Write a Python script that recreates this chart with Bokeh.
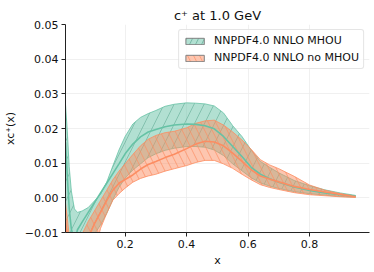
from bokeh.plotting import figure
from bokeh.models import ColumnDataSource, FixedTicker, Legend, LegendItem, Range1d
from bokeh.embed import file_html
from bokeh.resources import INLINE

# x grid of the bands
x = [0.006, 0.012, 0.018, 0.025, 0.035, 0.045, 0.06, 0.08, 0.1, 0.12, 0.14, 0.16, 0.18, 0.2,
     0.225, 0.25, 0.275, 0.3, 0.33, 0.36, 0.4, 0.43, 0.46, 0.49, 0.52, 0.55, 0.58, 0.61,
     0.64, 0.67, 0.7, 0.75, 0.8, 0.85, 0.9, 0.95]

# NNPDF4.0 NNLO MHOU
mhou_up = [0.027, 0.019, 0.009, 0.002, -0.0032, -0.0042, -0.0038, -0.0028, -0.0009, 0.001, 0.0045, 0.0092, 0.0138, 0.0177,
           0.0213, 0.0232, 0.0243, 0.0252, 0.0264, 0.0270, 0.0274, 0.0273, 0.0271, 0.0265, 0.0245, 0.0208, 0.0177, 0.0138,
           0.0105, 0.0088, 0.0072, 0.0050, 0.0035, 0.0023, 0.0014, 0.0007]
mhou_c = [0.016, 0.006, -0.003, -0.009, -0.0125, -0.0092, -0.0070, -0.0042, -0.0014, 0.0014, 0.0042, 0.0070, 0.0098, 0.0127,
          0.0155, 0.0176, 0.0190, 0.0197, 0.0205, 0.0210, 0.0213, 0.0212, 0.0208, 0.0199, 0.0177, 0.0148, 0.0119, 0.0088,
          0.0068, 0.0055, 0.0045, 0.0031, 0.0021, 0.0014, 0.0009, 0.0005]
mhou_lo = [-0.03, -0.03, -0.03, -0.03, -0.03, -0.03, -0.026, -0.018, -0.0105, -0.0078, -0.0045, -0.0005, 0.0030, 0.0057,
           0.0080, 0.0098, 0.0116, 0.0127, 0.0137, 0.0143, 0.0148, 0.0148, 0.0146, 0.0138, 0.0122, 0.0098, 0.0078, 0.0058,
           0.0043, 0.0034, 0.0027, 0.0018, 0.0012, 0.0008, 0.0004, 0.0002]

# NNPDF4.0 NNLO no MHOU
nomhou_up = [-0.0015, -0.006, -0.011, -0.015, -0.017, -0.016, -0.0105, -0.0068, -0.0038, -0.0008, 0.0022, 0.0052, 0.0077, 0.0098,
             0.0125, 0.0150, 0.0169, 0.0180, 0.0188, 0.0192, 0.0202, 0.0215, 0.0222, 0.0224, 0.0210, 0.0190, 0.0167, 0.0140,
             0.0110, 0.0095, 0.0084, 0.0062, 0.0037, 0.0022, 0.0012, 0.0005]
nomhou_c = [-0.006, -0.012, -0.016, -0.020, -0.022, -0.021, -0.017, -0.0115, -0.0075, -0.0042, -0.0008, 0.0022, 0.0042, 0.0053,
            0.0066, 0.0083, 0.0096, 0.0105, 0.0116, 0.0126, 0.0142, 0.0155, 0.0163, 0.0161, 0.0150, 0.0129, 0.0105, 0.0081,
            0.0063, 0.0054, 0.0046, 0.0033, 0.0024, 0.0017, 0.0010, 0.0003]
nomhou_lo = [-0.03, -0.03, -0.03, -0.03, -0.03, -0.03, -0.03, -0.024, -0.016, -0.0088, -0.0045, -0.0007, 0.0012, 0.0028,
             0.0045, 0.0056, 0.0063, 0.0068, 0.0077, 0.0084, 0.0093, 0.0102, 0.0108, 0.0108, 0.0098, 0.0085, 0.0068, 0.0052,
             0.0038, 0.0030, 0.0024, 0.0015, 0.0009, 0.0006, 0.0003, 0.0001]

y_ticks = [-0.01, 0.0, 0.01, 0.02, 0.03, 0.04, 0.05]
y_tick_labels = ["\u22120.01", "0.00", "0.01", "0.02", "0.03", "0.04", "0.05"]
x_ticks = [0.2, 0.4, 0.6, 0.8]
x_tick_labels = ["0.2", "0.4", "0.6", "0.8"]
labels = ["NNPDF4.0 NNLO MHOU", "NNPDF4.0 NNLO no MHOU"]

GREEN = "#66c2a5"
ORANGE = "#fc8d62"
FONT = "DejaVu Sans"

p = figure(frame_width=304, frame_height=208, output_backend="svg", toolbar_location=None,
           x_range=Range1d(0.006, 0.995), y_range=Range1d(-0.01, 0.05),
           min_border_left=55, min_border_right=3, min_border_top=24, min_border_bottom=38)
p.outline_line_color = None
p.background_fill_color = "white"

p.title.text = "c\u207a at 1.0 GeV"
p.title.align = "center"
p.title.text_font = FONT
p.title.text_font_size = "13px"
p.title.text_font_style = "normal"
p.title.text_color = "#111111"
p.title.standoff = 4
p.title.offset = 0

for ax in (p.xaxis[0], p.yaxis[0]):
    ax.major_label_text_font = FONT
    ax.major_label_text_font_size = "11px"
    ax.major_label_text_color = "#111111"
    ax.axis_label_text_font = FONT
    ax.axis_label_text_font_size = "11px"
    ax.axis_label_text_font_style = "normal"
    ax.axis_label_text_color = "#111111"
    ax.axis_line_color = "#222222"
    ax.axis_line_width = 1
    ax.major_tick_line_color = "#222222"
    ax.major_tick_out = 4
    ax.major_tick_in = 0
    ax.minor_tick_line_color = None
    ax.major_label_standoff = 3

p.xaxis[0].ticker = FixedTicker(ticks=x_ticks)
p.xaxis[0].major_label_overrides = dict(zip(x_ticks, x_tick_labels))
p.xaxis[0].axis_label = "x"
p.xaxis[0].axis_label_standoff = 3
p.yaxis[0].ticker = FixedTicker(ticks=y_ticks)
p.yaxis[0].major_label_overrides = dict(zip(y_ticks, y_tick_labels))
p.yaxis[0].axis_label = "xc\u207a(x)"
p.yaxis[0].axis_label_standoff = 5

p.xgrid.grid_line_color = "#ececec"
p.ygrid.grid_line_color = "#ececec"
p.xgrid.grid_line_width = 0.8
p.ygrid.grid_line_width = 0.8

src = ColumnDataSource(dict(x=x, gu=mhou_up, gc=mhou_c, gl=mhou_lo,
                            ou=nomhou_up, oc=nomhou_c, ol=nomhou_lo))

p.varea(x="x", y1="gl", y2="gu", source=src, fill_color=GREEN, fill_alpha=0.5,
        hatch_pattern="/", hatch_color="#4f9f86", hatch_alpha=0.6, hatch_scale=20, hatch_weight=0.8)
p.line(x="x", y="gu", source=src, line_color=GREEN, line_width=1, line_alpha=0.8)
p.line(x="x", y="gl", source=src, line_color=GREEN, line_width=1, line_alpha=0.8)

p.varea(x="x", y1="ol", y2="ou", source=src, fill_color=ORANGE, fill_alpha=0.5,
        hatch_pattern="\\", hatch_color=ORANGE, hatch_alpha=0.7, hatch_scale=15, hatch_weight=1)
p.line(x="x", y="ou", source=src, line_color=ORANGE, line_width=1, line_alpha=0.8)
p.line(x="x", y="ol", source=src, line_color=ORANGE, line_width=1, line_alpha=0.8)

p.line(x="x", y="gc", source=src, line_color=GREEN, line_width=1.6)
p.line(x="x", y="oc", source=src, line_color=ORANGE, line_width=1.6)

# off-range boxes that only provide the legend swatches
dummy = ColumnDataSource(dict(l=[5.0], r=[6.0], t=[5.0], b=[4.0]))
lg = p.quad(left="l", right="r", top="t", bottom="b", source=dummy, fill_color=GREEN, fill_alpha=0.5,
            line_color="#808080", line_width=1, hatch_pattern="/", hatch_color="#4f9f86",
            hatch_alpha=0.6, hatch_scale=12)
lo = p.quad(left="l", right="r", top="t", bottom="b", source=dummy, fill_color=ORANGE, fill_alpha=0.5,
            line_color="#808080", line_width=1, hatch_pattern="\\", hatch_color=ORANGE,
            hatch_alpha=0.7, hatch_scale=12)

legend = Legend(items=[LegendItem(label=labels[0], renderers=[lg]),
                       LegendItem(label=labels[1], renderers=[lo])],
                location="top_right")
legend.label_text_font = FONT
legend.label_text_font_size = "11px"
legend.label_text_color = "#111111"
legend.glyph_width = 23
legend.glyph_height = 8
legend.label_height = 12
legend.label_standoff = 8
legend.spacing = 4
legend.padding = 4
legend.margin = 5
legend.border_line_color = "#cccccc"
legend.border_line_width = 1
legend.border_radius = 3
legend.background_fill_alpha = 0.8
p.add_layout(legend)

open("out.html", "w").write(file_html(p, INLINE))
